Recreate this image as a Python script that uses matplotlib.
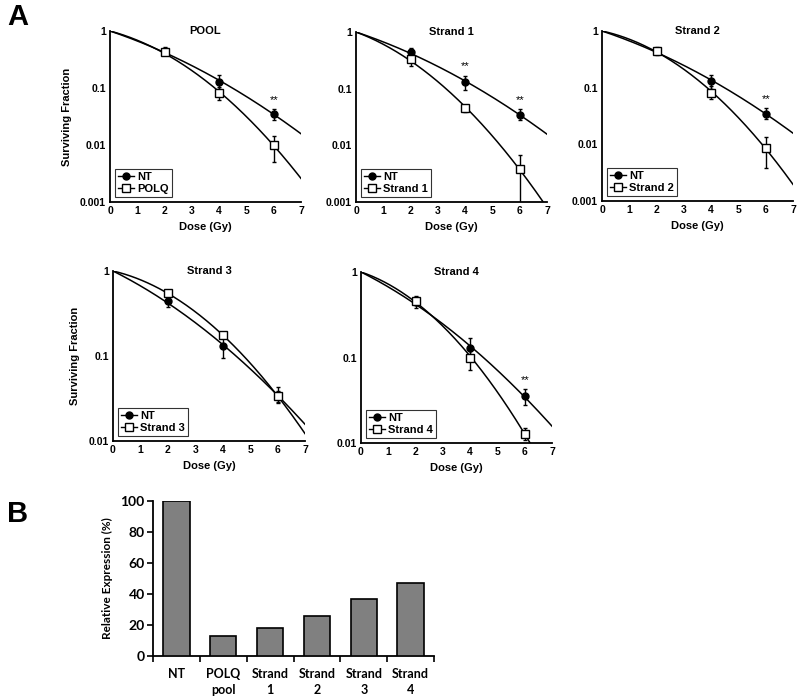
import numpy as np
import matplotlib
matplotlib.use("Agg")
import matplotlib.pyplot as plt
from matplotlib.lines import Line2D
from matplotlib.ticker import FixedLocator, FuncFormatter, NullFormatter

plt.rcParams['font.family'] = ['Liberation Sans', 'DejaVu Sans']
plt.rcParams['font.weight'] = 'bold'
plt.rcParams['axes.labelweight'] = 'bold'

# ---------------- data ----------------
doses = [2, 4, 6]

nt_sf = [0.44, 0.13, 0.035]
nt_err_lo = [0.06, 0.035, 0.007]
nt_err_hi = [0.08, 0.04, 0.008]

pool_sf = [0.42, 0.083, 0.0099]
pool_err_lo = [0.04, 0.021, 0.0049]
pool_err_hi = [0.05, 0.023, 0.0047]

strand1_sf = [0.33, 0.045, 0.0038]
strand1_err_lo = [0.075, 0.007, 0.0037]
strand1_err_hi = [0.09, 0.007, 0.003]

strand2_sf = [0.45, 0.082, 0.0085]
strand2_err_lo = [0.05, 0.02, 0.0047]
strand2_err_hi = [0.05, 0.024, 0.0052]

strand3_sf = [0.55, 0.175, 0.034]
strand3_err_lo = [0.03, 0.012, 0.005]
strand3_err_hi = [0.03, 0.012, 0.005]

strand4_sf = [0.46, 0.10, 0.0129]
strand4_err_lo = [0.05, 0.028, 0.0022]
strand4_err_hi = [0.05, 0.02, 0.0019]

panel_titles = ['POOL', 'Strand 1', 'Strand 2', 'Strand 3', 'Strand 4']
panel_legend = ['POLQ', 'Strand 1', 'Strand 2', 'Strand 3', 'Strand 4']
panel_sig = [[6], [4, 6], [6], [], [6]]

expr_labels = ['NT', 'POLQ\npool', 'Strand\n1', 'Strand\n2', 'Strand\n3', 'Strand\n4']
expr_values = [100, 12.9, 18.3, 26.1, 36.5, 47.4]

# ---------------- helpers ----------------
def lq_fit(d, s):
    """Linear-quadratic fit: ln S = -a D - b D^2 (S(0)=1)."""
    d = np.asarray(d, float)
    A = np.column_stack([d, d ** 2])
    coef, *_ = np.linalg.lstsq(A, -np.log(np.asarray(s, float)), rcond=None)
    return coef

def lq_curve(coef, dd):
    return np.exp(-coef[0] * dd - coef[1] * dd ** 2)

W, H = 800, 700
fig = plt.figure(figsize=(8, 7), dpi=100)

def ax_px(x0, y0, x1, y1):
    return fig.add_axes([x0 / W, 1 - y1 / H, (x1 - x0) / W, (y1 - y0) / H])

boxes = [(110, 31, 301, 202), (356, 32, 547, 202), (602, 31, 793, 201),
         (113, 271, 305, 441), (361, 272, 552, 443)]
series = [(pool_sf, pool_err_lo, pool_err_hi),
          (strand1_sf, strand1_err_lo, strand1_err_hi),
          (strand2_sf, strand2_err_lo, strand2_err_hi),
          (strand3_sf, strand3_err_lo, strand3_err_hi),
          (strand4_sf, strand4_err_lo, strand4_err_hi)]
ylims = [(0.001, 1), (0.001, 1), (0.001, 1), (0.01, 1), (0.01, 1)]

dd = np.linspace(0, 7, 200)
fs = 7.5

for i, (box, (sf, elo, ehi)) in enumerate(zip(boxes, series)):
    ax = ax_px(*box)
    ax.set_yscale('log')
    ax.set_xlim(0, 7)
    ax.set_ylim(*ylims[i])
    # fitted linear-quadratic curves
    c_nt = lq_fit(doses, nt_sf)
    c_kd = lq_fit(doses, sf)
    ax.plot(dd, lq_curve(c_nt, dd), color='black', lw=1.1, zorder=2)
    ax.plot(dd, lq_curve(c_kd, dd), color='black', lw=1.1, zorder=2)
    ax.errorbar(doses, nt_sf, yerr=[nt_err_lo, nt_err_hi], fmt='o', color='black',
                ms=5, capsize=1.5, elinewidth=1, capthick=1, zorder=4)
    ax.errorbar(doses, sf, yerr=[elo, ehi], fmt='s', mfc='white', mec='black',
                color='black', ms=6, mew=1, capsize=1.5, elinewidth=1,
                capthick=1, zorder=5)
    for d in panel_sig[i]:
        k = doses.index(d)
        top = nt_sf[k] + nt_err_hi[k]
        ax.annotate('**', (d, top), xytext=(0, 3), textcoords='offset points',
                    ha='center', va='bottom', fontsize=8, fontweight='normal')
    # axes styling
    for s in ['top', 'right']:
        ax.spines[s].set_visible(False)
    for s in ['left', 'bottom']:
        ax.spines[s].set_linewidth(1.3)
    ax.xaxis.set_major_locator(FixedLocator(range(0, 8)))
    lo, hi = ylims[i]
    decs = [10.0 ** e for e in range(int(round(np.log10(lo))), 1)]
    ax.yaxis.set_major_locator(FixedLocator(decs))
    ax.yaxis.set_minor_locator(FixedLocator([]))
    ax.yaxis.set_major_formatter(FuncFormatter(lambda v, p: '%g' % v))
    ax.tick_params(axis='both', length=0, labelsize=fs, pad=3)
    for lab in ax.get_xticklabels() + ax.get_yticklabels():
        lab.set_fontweight('bold')
    ax.set_xlabel('Dose (Gy)', fontsize=8, fontweight='bold', labelpad=4)
    if i in (0, 3):
        ax.set_ylabel('Surviving Fraction', fontsize=8, fontweight='bold', labelpad=6)
    ax.text(0.5, 1.0, panel_titles[i], transform=ax.transAxes, ha='center',
            va='center', fontsize=8, fontweight='bold')
    handles = [Line2D([], [], color='black', marker='o', ms=5, lw=1),
               Line2D([], [], color='black', marker='s', mfc='white', ms=5.5, lw=1)]
    leg = ax.legend(handles, ['NT', panel_legend[i]], loc='lower left',
                    fontsize=8, frameon=True, fancybox=False, handlelength=1.4,
                    handletextpad=0.3, borderpad=0.3, labelspacing=0.15,
                    borderaxespad=0.45)
    leg.get_frame().set_edgecolor('black')
    leg.get_frame().set_linewidth(0.8)
    for t in leg.get_texts():
        t.set_fontweight('bold')

# ---------------- panel B ----------------
axb = ax_px(153, 501, 434, 656)
x = np.arange(len(expr_labels))
axb.bar(x, expr_values, width=0.56, color='#808080', edgecolor='black', lw=1.2, zorder=3)
axb.set_xlim(-0.5, len(expr_labels) - 0.5)
axb.set_ylim(0, 100)
axb.set_yticks([0, 20, 40, 60, 80, 100])
axb.set_xticks(np.arange(-0.5, len(expr_labels)), minor=False)
axb.xaxis.set_major_formatter(NullFormatter())
axb.set_xticks(x, minor=True)
axb.set_xticklabels(expr_labels, minor=True, fontsize=9, fontweight='bold',
                    family=['Lato', 'DejaVu Sans'], linespacing=1.3)
axb.tick_params(axis='x', which='minor', length=0, pad=9)
axb.tick_params(axis='x', which='major', length=4, width=1.2, direction='out')
axb.tick_params(axis='y', length=4, width=1.2, direction='out', labelsize=10, pad=2)
for lab in axb.get_yticklabels():
    lab.set_fontweight('bold')
    lab.set_family(['Lato', 'DejaVu Sans'])
for s in ['top', 'right']:
    axb.spines[s].set_visible(False)
for s in ['left', 'bottom']:
    axb.spines[s].set_linewidth(1.3)
axb.set_ylabel('Relative Expression (%)', fontsize=8.5, fontweight='bold',
               family=['Lato', 'DejaVu Sans'], labelpad=5)

fig.text(7 / W, 1 - 17 / H, 'A', fontsize=21, fontweight='bold', ha='left', va='center')
fig.text(7 / W, 1 - 514 / H, 'B', fontsize=21, fontweight='bold', ha='left', va='center')

fig.savefig('out.png', dpi=100)
